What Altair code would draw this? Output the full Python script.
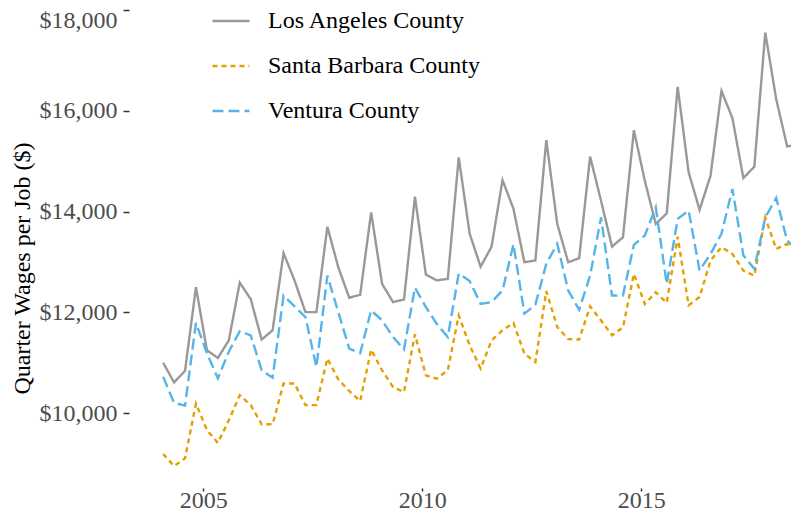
import altair as alt
import pandas as pd

years = list(range(2004, 2019))
quarter_months = [2, 5, 8, 11]

counties = ["Los Angeles County", "Santa Barbara County", "Ventura County"]
colors = ["#999999", "#E69F00", "#56B4E9"]
dashes = [[1, 0], [5, 4], [11, 5]]

la = [11000, 10610, 10840, 12500, 11250, 11095, 11445, 12590, 12265, 11460,
      11645, 13175, 12635, 12005, 12005, 13700, 12895, 12290, 12350, 13985,
      12565, 12205, 12255, 14295, 12750, 12635, 12665, 15075, 13560, 12905,
      13305, 14625, 14055, 12995, 13030, 15420, 13755, 12995, 13075, 15090,
      14215, 13305, 13490, 15615, 14610, 13755, 13965, 16475, 14780, 14035,
      14710, 16395, 15855, 14665, 14890, 17550, 16230, 15295, 15320, 18000]
sb = [9190, 8950, 9105, 10190, 9665, 9410, 9860, 10355, 10160, 9780,
      9780, 10590, 10590, 10160, 10160, 11085, 10670, 10440, 10240, 11260,
      10850, 10520, 10420, 11565, 10750, 10685, 10850, 11940, 11345, 10885,
      11445, 11645, 11790, 11180, 11015, 12420, 11710, 11470, 11460, 12120,
      11840, 11545, 11700, 12765, 12165, 12400, 12190, 13500, 12140, 12305,
      13030, 13295, 13160, 12830, 12730, 13885, 13260, 13360, 13160]
ve = [10720, 10205, 10150, 11790, 11190, 10690, 11220, 11625, 11545, 10850,
      10705, 12335, 12120, 11905, 10915, 12730, 12005, 11280, 11190, 12040,
      11840, 11510, 11265, 12490, 12105, 11770, 11510, 12770, 12620, 12170,
      12205, 12435, 13350, 11975, 12150, 12965, 13360, 12435, 12050, 12730,
      13885, 12335, 12335, 13340, 13525, 14085, 12565, 13855, 14020, 12830,
      13160, 13560, 14450, 13130, 12865, 13885, 14270, 13425, 13230]

t_all = [y + (m - 1) / 12 for y in years for m in quarter_months]

rows = []
for name, vals in zip(counties, [la, sb, ve]):
    for t, v in zip(t_all, vals):
        rows.append({"t": t, "wage": v, "county": name})
df = pd.DataFrame(rows)

FONT = "Liberation Serif"

legend = alt.Legend(
    title=None, orient="none", legendX=82, legendY=-7,
    symbolType="stroke", symbolSize=1369, symbolStrokeWidth=2.5,
    labelFont=FONT, labelFontSize=24, labelColor="black",
    labelOffset=17, rowPadding=13, labelLimit=400,
)

chart = alt.Chart(df).mark_line(clip=True, strokeWidth=2.4).encode(
    x=alt.X("t:Q", title=None,
            scale=alt.Scale(domain=[2003.304, 2018.421], nice=False, zero=False),
            axis=alt.Axis(values=[2005, 2010, 2015], format="d", grid=False, domain=False,
                          tickSize=3, tickWidth=1.5, tickColor="#333333",
                          labelFont=FONT, labelFontSize=24, labelColor="#4D4D4D",
                          labelBaseline="alphabetic", labelPadding=16)),
    y=alt.Y("wage:Q", title="Quarter Wages per Job ($)",
            scale=alt.Scale(domain=[8515, 18040], nice=False, zero=False),
            axis=alt.Axis(values=[10000, 12000, 14000, 16000, 18000], format="$,.0f",
                          grid=False, domain=False, tickSize=6, tickWidth=1.5,
                          tickColor="#333333", labelFont=FONT, labelFontSize=24,
                          labelColor="#4D4D4D", labelPadding=6,
                          labelOffset={"condition": {"test": "datum.value >= 18000", "value": 10}, "value": 0},
                          titleFont=FONT, titleFontSize=24, titleFontWeight="normal",
                          titleColor="black", titleX=-100, titleY=260,
                          titleBaseline="alphabetic", titleAngle=270)),
    color=alt.Color("county:N", scale=alt.Scale(domain=counties, range=colors), legend=legend),
    strokeDash=alt.StrokeDash("county:N", scale=alt.Scale(domain=counties, range=dashes), legend=legend),
).properties(
    width=662, height=480,
    autosize=alt.AutoSizeParams(type="none"),
    padding={"left": 121, "top": 0, "right": 0, "bottom": 24},
).configure_view(stroke=None)

chart.save("out.html", embed_options={"renderer": "svg", "actions": False})
